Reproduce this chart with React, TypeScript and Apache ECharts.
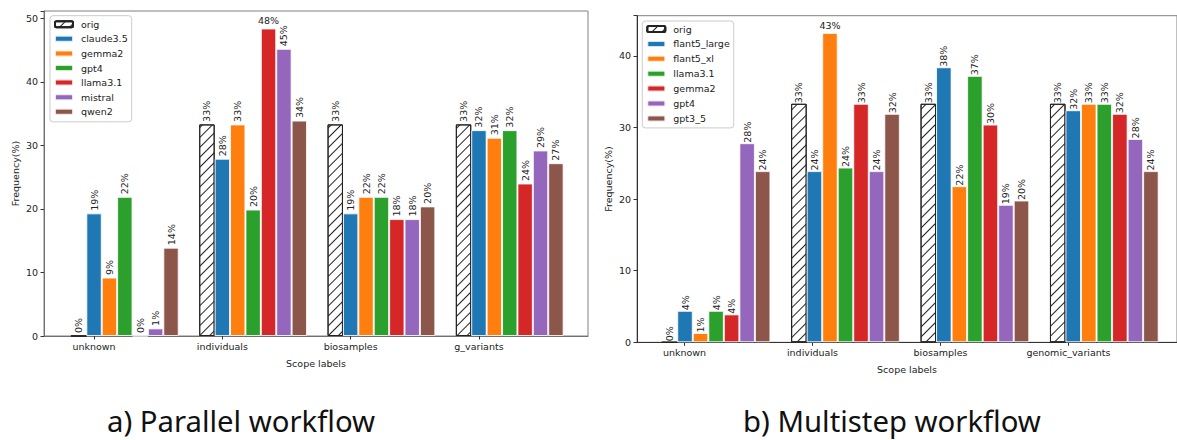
import React, { useEffect, useRef } from "react";
import * as echarts from "echarts";

// ---------- DATA ----------
const categoriesA = ["unknown", "individuals", "biosamples", "g_variants"];
const modelsA = ["orig", "claude3.5", "gemma2", "gpt4", "llama3.1", "mistral", "qwen2"];
const origA = [0, 33.3, 33.3, 33.3];
const claudeA = [19.3, 27.9, 19.3, 32.4];
const gemma2A = [9.2, 33.3, 21.9, 31.2];
const gpt4A = [21.9, 19.9, 21.9, 32.4];
const llamaA = [0, 48.4, 18.4, 24.0];
const mistralA = [1.2, 45.2, 18.4, 29.2];
const qwen2A = [13.9, 33.9, 20.4, 27.2];
const valuesA = [origA, claudeA, gemma2A, gpt4A, llamaA, mistralA, qwen2A];

const categoriesB = ["unknown", "individuals", "biosamples", "genomic_variants"];
const modelsB = ["orig", "flant5_large", "flant5_xl", "llama3.1", "gemma2", "gpt4", "gpt3_5"];
const origB = [0, 33.3, 33.3, 33.3];
const flantLargeB = [4.4, 23.9, 38.4, 32.4];
const flantXlB = [1.3, 43.2, 21.8, 33.3];
const llamaB = [4.4, 24.4, 37.2, 33.3];
const gemma2B = [3.9, 33.3, 30.4, 31.9];
const gpt4B = [27.8, 23.9, 19.2, 28.4];
const gpt35B = [23.9, 31.9, 19.8, 23.9];
const valuesB = [origB, flantLargeB, flantXlB, llamaB, gemma2B, gpt4B, gpt35B];

const yTicks = [0, 10, 20, 30, 40, 50];
const captionA = "a) Parallel workflow";
const captionB = "b) Multistep workflow";
const xTitle = "Scope labels";
const yTitle = "Frequency(%)";

// ---------- STYLE ----------
const colors = ["#ffffff", "#1f77b4", "#ff7f0e", "#2ca02c", "#d62728", "#9467bd", "#8c564b"];
const FONT = "DejaVu Sans";
const FS = 9.5;

type Panel = {
  key: string;
  cats: string[];
  models: string[];
  values: number[][];
  left: number;
  top: number;
  width: number;
  height: number;
  xMin: number;
  xMax: number;
  yMax: number;
  frameColor: string;
  axisColor: string;
  labelDist: number;
  legend: { left: number; top: number; padding: number[]; gap: number };
};

const panels: Panel[] = [
  {
    key: "A",
    cats: categoriesA,
    models: modelsA,
    values: valuesA,
    left: 44,
    top: 11,
    width: 544,
    height: 325,
    xMin: -0.39,
    xMax: 3.85,
    yMax: 51.15,
    frameColor: "#808080",
    axisColor: "#707070",
    labelDist: 2.5,
    legend: { left: 50, top: 15.7, padding: [2.5, 4, 4, 4], gap: 2.6 },
  },
  {
    key: "B",
    cats: categoriesB,
    models: modelsB,
    values: valuesB,
    left: 637,
    top: 15.7,
    width: 546,
    height: 326.6,
    xMin: -0.371,
    xMax: 3.848,
    yMax: 45.6,
    frameColor: "#808080",
    axisColor: "#333333",
    labelDist: 0.5,
    legend: { left: 642.3, top: 21, padding: [2, 4, 3.5, 4], gap: 2.9 },
  },
];

const BAR_W = 0.12; // bar width in category units

function buildOption() {
  const grid: any[] = [];
  const xAxis: any[] = [];
  const yAxis: any[] = [];
  const series: any[] = [];
  const legend: any[] = [];

  panels.forEach((p, pi) => {
    const unit = p.width / (p.xMax - p.xMin);
    const frameIdx = pi * 2;
    const barIdx = pi * 2 + 1;
    grid.push({
      left: p.left,
      top: p.top,
      width: p.width,
      height: p.height,
      show: true,
      borderColor: p.frameColor,
      borderWidth: 1,
      backgroundColor: "transparent",
    });
    const groupOffset = 2 * BAR_W;
    grid.push({
      left: p.left + (groupOffset - 0.5 - p.xMin) * unit,
      top: p.top,
      width: p.cats.length * unit,
      height: p.height,
    });
    xAxis.push({
      type: "value",
      gridIndex: frameIdx,
      min: p.xMin,
      max: p.xMax,
      splitLine: { show: false },
      axisLine: { show: true, onZero: false, lineStyle: { color: p.axisColor, width: 1 } },
      axisTick: {
        show: true,
        inside: false,
        length: 3.5,
        customValues: p.cats.map((_, i) => i),
        lineStyle: { color: "#333" },
      },
      axisLabel: {
        show: true,
        customValues: p.cats.map((_, i) => i),
        formatter: (v: number) => p.cats[Math.round(v)] ?? "",
        fontFamily: FONT,
        fontSize: FS,
        color: "#222",
        margin: 5,
      },
      name: xTitle,
      nameLocation: "middle",
      nameGap: 22,
      nameTextStyle: { fontFamily: FONT, fontSize: FS, color: "#222" },
    });
    xAxis.push({
      type: "category",
      gridIndex: barIdx,
      data: p.cats,
      show: false,
    });
    yAxis.push({
      type: "value",
      gridIndex: frameIdx,
      min: 0,
      max: p.yMax,
      interval: 10,
      splitLine: { show: false },
      axisLine: { show: true, onZero: false, lineStyle: { color: p.axisColor, width: 1 } },
      axisTick: { show: true, inside: false, length: 3.5, lineStyle: { color: "#333" } },
      axisLabel: {
        fontFamily: FONT,
        fontSize: FS,
        color: "#222",
        margin: 6,
        showMaxLabel: true,
        formatter: (v: number) => (yTicks.includes(v) ? String(v) : ""),
      },
      name: yTitle,
      nameLocation: "middle",
      nameGap: 24,
      nameTextStyle: { fontFamily: FONT, fontSize: FS, color: "#222" },
    });
    yAxis.push({
      type: "value",
      gridIndex: barIdx,
      min: 0,
      max: p.yMax,
      show: false,
    });

    const chartMax = Math.max(...p.values.flat());
    p.models.forEach((m, mi) => {
      const isOrig = mi === 0;
      series.push({
        type: "bar",
        name: p.key + ":" + m,
        xAxisIndex: barIdx,
        yAxisIndex: barIdx,
        barGap: "0%",
        barCategoryGap: (1 - BAR_W * p.models.length) * 100 + "%",
        itemStyle: isOrig
          ? {
              color: "#ffffff",
              borderColor: "#222",
              borderWidth: 1,
              decal: {
                symbol: "rect",
                symbolSize: 1,
                dashArrayX: [1, 0],
                dashArrayY: [1, 5.5],
                rotation: -Math.PI / 4,
                color: "#222",
              },
            }
          : { color: colors[mi], borderColor: "rgba(255,255,255,0.8)", borderWidth: 1 },
        label: {
          show: true,
          position: "top",
          rotate: 90,
          align: "left",
          verticalAlign: "middle",
          distance: p.labelDist,
          fontFamily: FONT,
          fontSize: FS,
          color: "#222",
          formatter: (d: any) => Math.round(d.value) + "%",
        },
        data: p.values[mi].map((v) =>
          v === chartMax
            ? {
                value: v,
                label: { rotate: 0, align: "center", verticalAlign: "bottom", distance: 2.5 },
              }
            : v
        ),
      });
    });

    legend.push({
      orient: "vertical",
      left: p.legend.left,
      top: p.legend.top,
      data: p.models.map((m) => p.key + ":" + m),
      formatter: (n: string) => n.slice(2),
      itemWidth: 18,
      itemHeight: 6,
      itemGap: p.legend.gap,
      padding: p.legend.padding,
      backgroundColor: "rgba(255,255,255,0.85)",
      borderColor: "#cccccc",
      borderWidth: 1,
      borderRadius: 3,
      selectedMode: false,
      textStyle: {
        fontFamily: FONT,
        fontSize: FS,
        color: "#222",
        lineHeight: 12,
        padding: [0, 0, 0, 3],
      },
    });
  });

  return {
    animation: false,
    backgroundColor: "#ffffff",
    grid,
    xAxis,
    yAxis,
    series,
    legend,
    graphic: [
      {
        type: "text",
        left: 107,
        top: 406,
        style: { text: captionA, fontFamily: "Noto Sans", fontSize: 29.3, fill: "#111" },
      },
      {
        type: "text",
        left: 743,
        top: 406,
        style: { text: captionB, fontFamily: "Noto Sans", fontSize: 29.3, fill: "#111" },
      },
    ],
  };
}

export default function App() {
  const ref = useRef<HTMLDivElement>(null);
  useEffect(() => {
    if (!ref.current) return;
    const chart = echarts.init(ref.current, undefined, { renderer: "svg" });
    chart.setOption(buildOption() as any);
    return () => chart.dispose();
  }, []);
  return (
    <div
      ref={ref}
      style={{ position: "absolute", left: 0, top: 0, width: 1177, height: 440, background: "#fff" }}
    />
  );
}
